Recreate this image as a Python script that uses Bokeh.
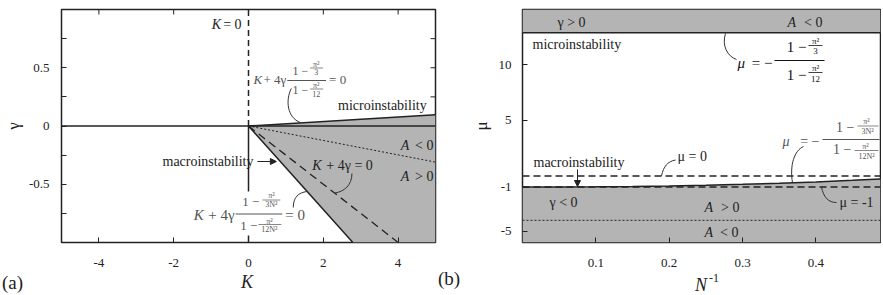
from bokeh.plotting import figure
from bokeh.layouts import row, column
from bokeh.models import Range1d, FixedTicker, Label, Arrow, NormalHead, BoxAnnotation, Div
from bokeh.embed import file_html
from bokeh.resources import INLINE

FONT = "'Liberation Serif', 'Times New Roman', serif"
GREY = "#b4b4b4"
INK = "#222222"
SOFT = "#555555"

# ---------------- data, panel (a) ----------------
K_range = [-5, 5]
gamma_range = [-1, 1]
K_ticks = [-4, -2, 0, 2, 4]
gamma_ticks = [-0.5, 0, 0.5]
gamma_minor = [-0.75, -0.25, 0.25, 0.75]
K_micro = [0, 5]
gamma_micro = [0, 0.097]
K_macro = [0, 2.79]
gamma_macro = [0, -1]
K_k4g = [0, 4]
gamma_k4g = [0, -1]
K_A = [0, 5]
gamma_A = [0, -0.31]

# ---------------- data, panel (b) ----------------
Ninv_range = [0, 0.488]
mu_range = [-6, 15]
Ninv_ticks = [0.1, 0.2, 0.3, 0.4]
mu_ticks = [-5, -1, 5, 10]
Ninv = [0, 0.05, 0.1, 0.15, 0.2, 0.25, 0.3, 0.35, 0.4, 0.45, 0.488]
mu_macro = [-1.0, -0.994, -0.975, -0.943, -0.898, -0.837, -0.76, -0.664, -0.545, -0.40, -0.269]
mu_micro = 12.9
mu_zero = 0
mu_minus1 = -1
mu_A = -4

H = 293
TICK = 5  # px


def make_fig(xr, yr, width, left, right):
    p = figure(width=width, height=H, x_range=Range1d(*xr), y_range=Range1d(*yr),
               output_backend="svg", toolbar_location=None,
               min_border_left=left, min_border_right=right,
               min_border_top=9, min_border_bottom=51)
    p.grid.visible = False
    p.outline_line_color = INK
    p.outline_line_width = 1.5
    return p


def style_axis(ax, ticks, minor=None, overrides=None, label=None, lstyle="normal",
               standoff=11, lstandoff=3):
    ax.ticker = FixedTicker(ticks=ticks, minor_ticks=minor or [])
    ax.axis_line_color = None
    ax.major_tick_in = TICK
    ax.major_tick_out = 0
    ax.minor_tick_in = TICK
    ax.minor_tick_out = 0
    ax.major_tick_line_color = INK
    ax.minor_tick_line_color = INK
    ax.major_label_text_font = FONT
    ax.major_label_text_font_size = "13px"
    ax.major_label_text_color = INK
    ax.major_label_standoff = standoff
    if overrides:
        ax.major_label_overrides = overrides
    ax.axis_label = label
    ax.axis_label_text_font = FONT
    ax.axis_label_text_font_size = "17px"
    ax.axis_label_text_font_style = lstyle
    ax.axis_label_text_color = INK
    ax.axis_label_standoff = lstandoff


# picture-pixel -> data converters (frame a: x 60..436, y 10..243 ; frame b: x 523..881)
def pa(px, py):
    return (-5 + (px - 60) / 37.6, 1 - (py - 10) / 116.5)


def pb(px, py):
    return ((px - 523) / 733.6, 15 - (py - 10) / 11.095)


def put(p, conv, px, py, s, size=14, align="left", style="normal", color=INK):
    x, y = conv(px, py)
    p.add_layout(Label(x=x, y=y, text=s, text_font=FONT, text_font_size=f"{size}px",
                       text_align=align, text_baseline="middle",
                       text_font_style=style, text_color=color))


def bar(p, conv, px0, px1, py, color, width=1.0):
    x0, y0 = conv(px0, py)
    x1, _ = conv(px1, py)
    r = p.segment(x0=[x0], y0=[y0], x1=[x1], y1=[y0], line_color=color, line_width=width)
    r.level = "overlay"


def leader(p, conv, s, c0, c1, e):
    (x0, y0), (cx0, cy0), (cx1, cy1), (x1, y1) = conv(*s), conv(*c0), conv(*c1), conv(*e)
    p.bezier(x0=[x0], y0=[y0], cx0=[cx0], cy0=[cy0], cx1=[cx1], cy1=[cy1],
             x1=[x1], y1=[y1], line_color="#333333", line_width=1)


def arrow(p, conv, s, e):
    (x0, y0), (x1, y1) = conv(*s), conv(*e)
    p.add_layout(Arrow(end=NormalHead(size=6, fill_color=INK, line_color=INK),
                       x_start=x0, y_start=y0, x_end=x1, y_end=y1,
                       line_color=INK, line_width=1))


# ================= panel (a) =================
fa = make_fig(K_range, gamma_range, 468, 59, 33)
style_axis(fa.xaxis[0], K_ticks, overrides={-4: "-4", -2: "-2", 0: "0", 2: "2", 4: "4"},
           standoff=16)
style_axis(fa.yaxis[0], gamma_ticks, gamma_minor,
           overrides={-0.5: "-0.5", 0: "0", 0.5: "0.5"}, label="γ", standoff=12, lstandoff=3)

# mirrored ticks on the top and right edges of panel (a)
dy_tick = TICK / 116.5
dx_tick = TICK / 37.6
fa.segment(x0=K_ticks, y0=[gamma_range[1]] * len(K_ticks), x1=K_ticks,
           y1=[gamma_range[1] - dy_tick] * len(K_ticks), line_color=INK, line_width=1)
g_all = gamma_ticks + gamma_minor
fa.segment(x0=[K_range[1]] * len(g_all), y0=g_all, x1=[K_range[1] - dx_tick] * len(g_all),
           y1=g_all, line_color=INK, line_width=1)

fa.patch(x=[K_micro[0], K_micro[1], K_micro[1], K_macro[1]],
         y=[gamma_micro[0], gamma_micro[1], gamma_range[0], gamma_macro[1]],
         fill_color=GREY, line_color=None)
fa.line(K_range, [0, 0], line_color=INK, line_width=1.5)
fa.line([0, 0], [0, gamma_range[1]], line_color=INK, line_width=1.5, line_dash="6 4")
fa.line([0, 0], [0, gamma_range[0]], line_color=INK, line_width=1.5)
fa.line(K_micro, gamma_micro, line_color=INK, line_width=1.5)
fa.line(K_macro, gamma_macro, line_color=INK, line_width=1.5)
fa.line(K_k4g, gamma_k4g, line_color=INK, line_width=1.3, line_dash="8 5")
fa.line(K_A, gamma_A, line_color=INK, line_width=1, line_dash="2 2")

# white backing behind the lower formula
bl, bt = pa(238, 192)
br, bb = pa(259, 236)
fa.add_layout(BoxAnnotation(left=bl, right=br, top=bt, bottom=bb,
                            fill_color="white", fill_alpha=1, line_color=None))

put(fa, pa, 211, 25, "K", style="italic")
put(fa, pa, 241, 25, "= 0", align="right")

# upper formula  K + 4γ (1-π²/3)/(1-π²/12) = 0
put(fa, pa, 253, 80, "K", 13, style="italic", color=SOFT)
put(fa, pa, 286, 80, "+ 4γ", 13, align="right", color=SOFT)
bar(fa, pa, 287, 326, 81, SOFT)
put(fa, pa, 308, 71, "1 −", 12, align="right", color=SOFT)
put(fa, pa, 316, 65, "π²", 8, align="center", color=SOFT)
bar(fa, pa, 310, 323, 68.5, SOFT, 0.7)
put(fa, pa, 316, 72, "3", 8, align="center", color=SOFT)
put(fa, pa, 308, 90, "1 −", 12, align="right", color=SOFT)
put(fa, pa, 316, 86, "π²", 8, align="center", color=SOFT)
bar(fa, pa, 310, 323, 89.5, SOFT, 0.7)
put(fa, pa, 316, 94, "12", 8, align="center", color=SOFT)
put(fa, pa, 329, 80, "= 0", 13, color=SOFT)
leader(fa, pa, (291, 89), (285, 101), (287, 118), (300, 123))

put(fa, pa, 338, 106, "microinstability")
put(fa, pa, 401, 146, "A", style="italic")
put(fa, pa, 434, 146, "< 0", align="right")
put(fa, pa, 401, 177, "A", style="italic")
put(fa, pa, 434, 177, "> 0", align="right")

put(fa, pa, 312, 166, "K", style="italic")
put(fa, pa, 373, 166, "+ 4γ = 0", align="right")
leader(fa, pa, (352, 174), (352, 186), (344, 192), (335, 193.5))

put(fa, pa, 253, 162, "macroinstability", align="right")
arrow(fa, pa, (257, 162), (276, 162))

# lower formula  K + 4γ (1-π²/3N²)/(1-π²/12N²) = 0
put(fa, pa, 193, 215, "K", 15, style="italic", color=SOFT)
put(fa, pa, 234, 215, "+ 4γ", 15, align="right", color=SOFT)
bar(fa, pa, 235, 282, 214.5, SOFT)
put(fa, pa, 259, 201.5, "1 −", 13, align="right", color=SOFT)
put(fa, pa, 271, 196, "π²", 8, align="center", color=SOFT)
bar(fa, pa, 262, 280, 200.5, SOFT, 0.7)
put(fa, pa, 271, 204.5, "3N²", 8, align="center", color=SOFT)
put(fa, pa, 257, 226, "1 −", 13, align="right", color=SOFT)
put(fa, pa, 269, 221.5, "π²", 8, align="center", color=SOFT)
bar(fa, pa, 258, 281, 225, SOFT, 0.7)
put(fa, pa, 269, 229.5, "12N²", 8, align="center", color=SOFT)
put(fa, pa, 285, 215, "= 0", 15, color=SOFT)
leader(fa, pa, (293, 208), (293, 198), (298, 193), (307, 192))

# ================= panel (b) =================
fb = make_fig(Ninv_range, mu_range, 413, 54, 1)
style_axis(fb.xaxis[0], Ninv_ticks, standoff=16)
style_axis(fb.yaxis[0], mu_ticks, overrides={-5: "-5", -1: "-1", 5: "5", 10: "10"},
           label="μ", standoff=11, lstandoff=5)

fb.varea(x=Ninv_range, y1=[mu_micro, mu_micro], y2=[mu_range[1], mu_range[1]], fill_color=GREY)
fb.varea(x=Ninv, y1=[mu_range[0]] * len(Ninv), y2=mu_macro, fill_color=GREY)
fb.line(Ninv_range, [mu_micro, mu_micro], line_color=INK, line_width=1.5)
fb.line(Ninv, mu_macro, line_color=INK, line_width=1.5)
fb.line(Ninv_range, [mu_zero, mu_zero], line_color=INK, line_width=1.4, line_dash="7 4")
fb.line(Ninv_range, [mu_minus1, mu_minus1], line_color=INK, line_width=1.4, line_dash="7 4")
fb.line(Ninv_range, [mu_A, mu_A], line_color=INK, line_width=1, line_dash="2 2")

put(fb, pb, 558, 23, "γ > 0")
put(fb, pb, 788, 23, "A", style="italic")
put(fb, pb, 823, 23, "< 0", align="right")
put(fb, pb, 533, 45, "microinstability")

# μ = −(1−π²/3)/(1−π²/12)
DARK = "#111111"
put(fb, pb, 738, 63, "μ", 15, style="italic", color=DARK)
put(fb, pb, 773, 63, "= −", 15, align="right", color=DARK)
bar(fb, pb, 775, 825, 61, DARK, 1.2)
put(fb, pb, 807, 47, "1 −", 15, align="right", color=DARK)
put(fb, pb, 816, 41, "π²", 9, align="center", color=DARK)
bar(fb, pb, 809, 823, 46, DARK, 0.8)
put(fb, pb, 816, 51, "3", 9, align="center", color=DARK)
put(fb, pb, 807, 75, "1 −", 15, align="right", color=DARK)
put(fb, pb, 816, 68.5, "π²", 9, align="center", color=DARK)
bar(fb, pb, 809, 823, 73, DARK, 0.8)
put(fb, pb, 816, 79, "12", 9, align="center", color=DARK)
leader(fb, pb, (726, 34), (722, 46), (728, 57), (737, 60))

put(fb, pb, 534, 163, "macroinstability")
arrow(fb, pb, (578, 170), (578, 187))

put(fb, pb, 678, 157, "μ = 0")
leader(fb, pb, (662, 176.4), (664, 167), (668, 162), (676, 160.5))

# μ = −(1−π²/3N²)/(1−π²/12N²)
put(fb, pb, 783, 142, "μ", 14, style="italic", color=SOFT)
put(fb, pb, 820, 142, "= −", 14, align="right", color=SOFT)
bar(fb, pb, 823, 880, 140, SOFT)
put(fb, pb, 855, 128, "1 −", 14, align="right", color=SOFT)
put(fb, pb, 867, 121.5, "π²", 8, align="center", color=SOFT)
bar(fb, pb, 858, 879, 126.5, SOFT, 0.7)
put(fb, pb, 868, 131.5, "3N²", 8, align="center", color=SOFT)
put(fb, pb, 852, 150, "1 −", 14, align="right", color=SOFT)
put(fb, pb, 866, 146.5, "π²", 8, align="center", color=SOFT)
bar(fb, pb, 855, 879, 151, SOFT, 0.7)
put(fb, pb, 867, 156.5, "12N²", 8, align="center", color=SOFT)
leader(fb, pb, (793, 183.4), (790, 165), (795, 151), (804, 147))

put(fb, pb, 840, 203, "μ = -1")
leader(fb, pb, (822, 187.5), (824, 198), (829, 203), (837, 203))

put(fb, pb, 550, 203, "γ < 0")
put(fb, pb, 705, 207.5, "A", style="italic")
put(fb, pb, 740, 207.5, "> 0", align="right")
put(fb, pb, 705, 233, "A", style="italic")
put(fb, pb, 739, 233, "< 0", align="right")

# panel letters and x-axis titles, overlaid on the bottom strip of the figures
SERIF_CSS = "font-family:'Liberation Serif','Times New Roman',serif;color:#222;position:absolute;"
letters = Div(
    text=("<div style=\"position:relative;width:881px;height:30px;\">"
          f"<span style=\"{SERIF_CSS}left:2px;top:10px;font-size:19px;line-height:19px\">(a)</span>"
          f"<span style=\"{SERIF_CSS}left:241px;top:10px;font-size:18px;line-height:18px;font-style:italic\">K</span>"
          f"<span style=\"{SERIF_CSS}left:438px;top:6px;font-size:19px;line-height:19px\">(b)</span>"
          f"<span style=\"{SERIF_CSS}left:695px;top:13px;font-size:18px;line-height:18px;font-style:italic\">N</span>"
          f"<span style=\"{SERIF_CSS}left:709px;top:9px;font-size:12px;line-height:12px\">-1</span>"
          "</div>"),
    width=881, height=30, margin=(-30, 0, 0, 0))

layout = column(row(fa, fb, spacing=0), letters, spacing=0)
open("out.html", "w").write(file_html(layout, INLINE))
